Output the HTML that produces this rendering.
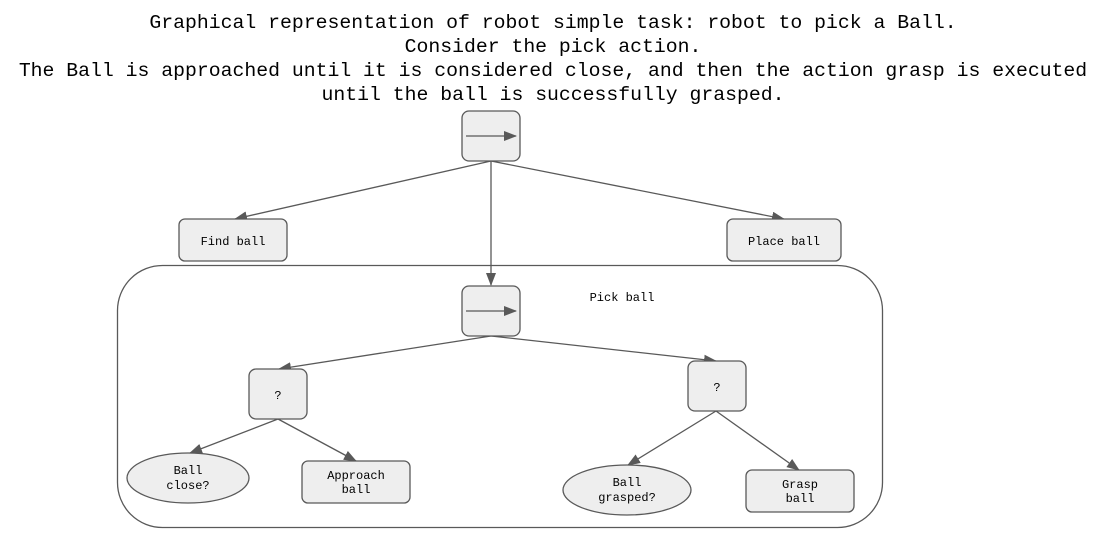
<!DOCTYPE html>
<html><head><style>
html,body{margin:0;padding:0;background:#fff;width:1103px;height:546px;overflow:hidden}
</style></head><body>
<svg width="1103" height="546" viewBox="0 0 1103 546" xmlns="http://www.w3.org/2000/svg">
<defs><marker id="a" markerWidth="13" markerHeight="10" refX="12" refY="5" orient="auto" markerUnits="userSpaceOnUse"><path d="M0,0 L13,5 L0,10 z" fill="#595959"/></marker></defs>
<g font-family="Liberation Mono, monospace" font-size="19.8" fill="#000" text-anchor="middle">
<text x="553" y="28">Graphical representation of robot simple task: robot to pick a Ball.</text>
<text x="553" y="52">Consider the pick action.</text>
<text x="553" y="76">The Ball is approached until it is considered close, and then the action grasp is executed</text>
<text x="553" y="100">until the ball is successfully grasped.</text>
</g>
<rect x="117.5" y="265.5" width="765" height="262" rx="45" fill="none" stroke="#595959" stroke-width="1.3"/>
<g stroke="#595959" stroke-width="1.3" fill="none" marker-end="url(#a)">
<line x1="491" y1="161" x2="235" y2="219"/>
<line x1="491" y1="161" x2="491" y2="285"/>
<line x1="491" y1="161" x2="784" y2="219"/>
<line x1="491" y1="336" x2="279" y2="369"/>
<line x1="491" y1="336" x2="716" y2="361"/>
<line x1="278" y1="419" x2="190" y2="453"/>
<line x1="278" y1="419" x2="356" y2="461"/>
<line x1="716" y1="411" x2="628" y2="465"/>
<line x1="716" y1="411" x2="799" y2="470"/>
</g>
<g fill="#eeeeee" stroke="#595959" stroke-width="1.3">
<rect x="462" y="111" width="58" height="50" rx="7"/>
<rect x="462" y="286" width="58" height="50" rx="7"/>
<rect x="179" y="219" width="108" height="42" rx="6"/>
<rect x="727" y="219" width="114" height="42" rx="6"/>
<rect x="249" y="369" width="58" height="50" rx="7"/>
<rect x="688" y="361" width="58" height="50" rx="7"/>
<ellipse cx="188" cy="478" rx="61" ry="25"/>
<rect x="302" y="461" width="108" height="42" rx="6"/>
<ellipse cx="627" cy="490" rx="64" ry="25"/>
<rect x="746" y="470" width="108" height="42" rx="6"/>
</g>
<g stroke="#595959" stroke-width="1.3" marker-end="url(#a)">
<line x1="466" y1="136" x2="516" y2="136"/>
<line x1="466" y1="311" x2="516" y2="311"/>
</g>
<g font-family="Liberation Mono, monospace" font-size="12" fill="#000" text-anchor="middle">
<text x="233" y="245">Find ball</text>
<text x="784" y="245">Place ball</text>
<text x="622" y="301">Pick ball</text>
<text x="278" y="399">?</text>
<text x="717" y="391">?</text>
<text x="188" y="474">Ball</text><text x="188" y="489">close?</text>
<text x="356" y="479">Approach</text><text x="356" y="493">ball</text>
<text x="627" y="486">Ball</text><text x="627" y="501">grasped?</text>
<text x="800" y="488">Grasp</text><text x="800" y="502">ball</text>
</g>
</svg>
</body></html>
